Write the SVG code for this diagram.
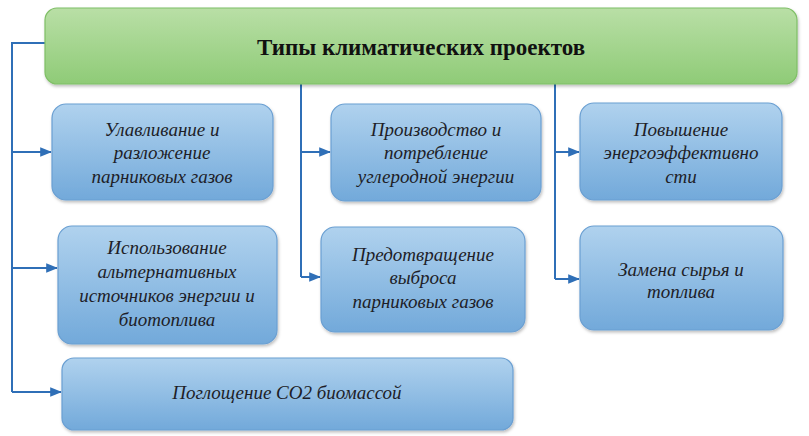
<svg xmlns="http://www.w3.org/2000/svg" width="809" height="436" viewBox="0 0 809 436">
<defs>
<linearGradient id="gGreen" x1="0" y1="0" x2="0" y2="1">
<stop offset="0" stop-color="#b9dfa6"/>
<stop offset="1" stop-color="#8fcb77"/>
</linearGradient>
<linearGradient id="gBlue" x1="0" y1="0" x2="0" y2="1">
<stop offset="0" stop-color="#b0d2ee"/>
<stop offset="1" stop-color="#72a9da"/>
</linearGradient>
<filter id="sh" x="-10%" y="-10%" width="120%" height="130%">
<feDropShadow dx="1" dy="2" stdDeviation="1.5" flood-color="#000" flood-opacity="0.25"/>
</filter>
<marker id="arr" viewBox="0 0 10 10" refX="9" refY="5" markerWidth="6" markerHeight="6" orient="auto">
<path d="M0,1 L10,5 L0,9 z" fill="#2f6fb7"/>
</marker>
<style>
.blue{fill:url(#gBlue);stroke:#6a9fd2;stroke-width:1.2;filter:url(#sh)}
.green{fill:url(#gGreen);stroke:#7fbf66;stroke-width:1.2;filter:url(#sh)}
.t{font-family:"Liberation Serif",serif;font-style:italic;font-size:19px;fill:#1e1e28;text-anchor:middle}
.title{font-family:"Liberation Serif",serif;font-weight:bold;font-size:23px;fill:#111;text-anchor:middle}
.c{fill:none;stroke:#2f6fb7;stroke-width:2}
.a{marker-end:url(#arr)}
</style>
</defs>
<rect width="809" height="436" fill="#fff"/>
<g id="connectors">
<path class="c" d="M45,43 H12 V392"/>
<path class="c a" d="M12,152 H51"/>
<path class="c a" d="M12,268 H57"/>
<path class="c a" d="M12,392 H61"/>
<path class="c" d="M301,84 V277"/>
<path class="c a" d="M301,152 H330"/>
<path class="c a" d="M301,277 H320"/>
<path class="c" d="M555,84 V279"/>
<path class="c a" d="M555,152 H579"/>
<path class="c a" d="M555,279 H579"/>
</g>
<g id="title">
<rect class="green" x="45" y="8" width="752" height="76" rx="12"/>
<text class="title" x="421" y="55">Типы климатических проектов</text>
</g>
<g id="n1">
<rect class="blue" x="52" y="104" width="221" height="96" rx="14"/>
<text class="t" x="162" y="136">Улавливание и</text>
<text class="t" x="162" y="159">разложение</text>
<text class="t" x="162" y="183">парниковых газов</text>
</g>
<g id="n2">
<rect class="blue" x="331" y="104" width="210" height="97" rx="14"/>
<text class="t" x="436" y="136">Производство и</text>
<text class="t" x="436" y="159">потребление</text>
<text class="t" x="436" y="183">углеродной энергии</text>
</g>
<g id="n3">
<rect class="blue" x="580" y="103" width="202" height="97" rx="14"/>
<text class="t" x="681" y="136">Повышение</text>
<text class="t" x="681" y="159">энергоэффективно</text>
<text class="t" x="681" y="183">сти</text>
</g>
<g id="n4">
<rect class="blue" x="58" y="226" width="219" height="118" rx="14"/>
<text class="t" x="167" y="254">Использование</text>
<text class="t" x="167" y="278">альтернативных</text>
<text class="t" x="167" y="302">источников энергии и</text>
<text class="t" x="167" y="326">биотоплива</text>
</g>
<g id="n5">
<rect class="blue" x="321" y="227" width="204" height="105" rx="14"/>
<text class="t" x="423" y="261">Предотвращение</text>
<text class="t" x="423" y="284">выброса</text>
<text class="t" x="423" y="308">парниковых газов</text>
</g>
<g id="n6">
<rect class="blue" x="580" y="226" width="203" height="104" rx="14"/>
<text class="t" x="681" y="276">Замена сырья и</text>
<text class="t" x="681" y="298">топлива</text>
</g>
<g id="n7">
<rect class="blue" x="62" y="358" width="451" height="72" rx="12"/>
<text class="t" x="287" y="399">Поглощение СО2 биомассой</text>
</g>
</svg>
